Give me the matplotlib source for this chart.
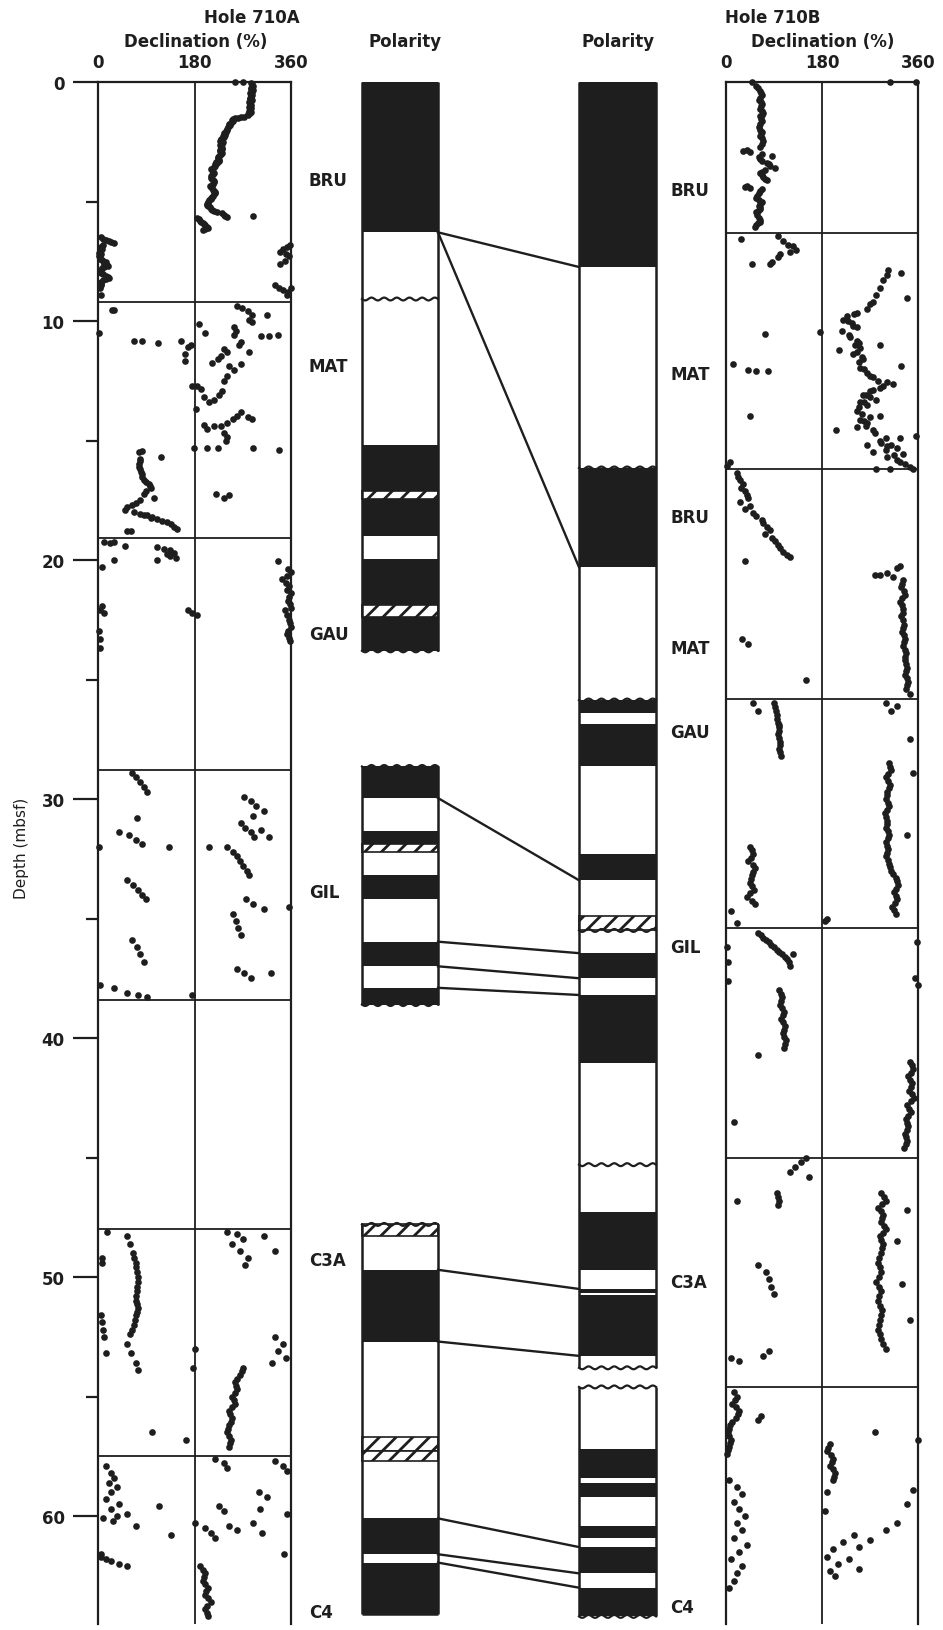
import numpy as np
import matplotlib.pyplot as plt
from matplotlib.patches import Rectangle

plt.rcParams['font.family'] = ['DejaVu Sans']
plt.rcParams['hatch.linewidth'] = 2.0

INK = '#1e1e1e'
W, H = 943, 1631
YMAX = 64.5
PX_PER_M = 23.9
TOP_PX = 83

# ---- Hole 710A declination (depth mbsf, declination deg) ----
a_core1 = [(0.0, 255), (0.0, 270), (0.05, 285), (0.1, 287), (0.15, 289), (0.2, 288), (0.25, 285),
           (0.3, 286), (0.35, 289), (0.4, 287), (0.45, 284), (0.5, 285), (0.55, 288), (0.6, 286),
           (0.65, 283), (0.7, 284), (0.75, 287), (0.8, 285), (0.85, 282), (0.9, 283), (0.95, 286),
           (1.0, 284), (1.05, 281), (1.1, 285), (1.15, 283), (1.2, 282), (1.25, 285), (1.3, 283),
           (1.35, 279), (1.4, 280), (1.45, 272), (1.47, 266), (1.5, 262), (1.52, 255), (1.56, 252),
           (1.6, 250), (1.65, 251), (1.7, 248), (1.75, 245), (1.8, 246), (1.85, 244), (1.9, 243),
           (1.95, 241), (2.0, 240), (2.05, 239), (2.1, 238), (2.15, 235), (2.2, 236), (2.25, 234),
           (2.3, 235), (2.38, 230), (2.45, 227), (2.5, 233), (2.55, 230), (2.6, 231), (2.65, 228),
           (2.7, 229), (2.75, 232), (2.8, 231), (2.85, 227), (2.9, 228), (2.95, 231), (3.0, 229),
           (3.05, 227), (3.1, 226), (3.15, 223), (3.2, 224), (3.25, 226), (3.3, 225), (3.35, 221),
           (3.4, 222), (3.45, 219), (3.5, 218), (3.55, 216), (3.6, 214), (3.65, 211), (3.7, 212),
           (3.75, 215), (3.8, 216), (3.85, 214), (3.9, 213), (3.95, 210), (4.0, 211), (4.05, 213),
           (4.1, 214), (4.15, 217), (4.2, 216), (4.25, 214), (4.3, 212), (4.35, 209), (4.4, 210),
           (4.45, 212), (4.5, 214), (4.55, 216), (4.6, 218), (4.65, 219), (4.7, 216), (4.75, 214),
           (4.8, 213), (4.85, 211), (4.9, 210), (4.95, 207), (5.0, 206), (5.05, 205), (5.1, 204),
           (5.15, 203), (5.2, 205), (5.25, 208), (5.3, 210), (5.35, 213), (5.4, 216), (5.45, 222),
           (5.5, 232), (5.55, 235), (5.6, 236), (5.65, 240), (5.6, 290), (5.7, 185), (5.75, 188),
           (5.8, 190), (5.85, 193), (5.9, 195), (5.95, 198), (6.0, 200), (6.05, 203), (6.1, 205),
           (6.15, 200), (6.2, 196),
           (6.5, 5), (6.55, 10), (6.6, 15), (6.65, 20), (6.7, 25), (6.75, 30), (6.8, 10), (6.85, 7),
           (6.9, 5), (6.95, 3), (7.0, 8), (7.05, 5), (7.1, 3), (7.15, 2), (7.2, 6), (7.25, 4),
           (7.3, 2), (7.35, 3), (7.4, 4), (7.45, 7), (7.5, 10), (7.55, 14), (7.6, 12), (7.65, 16),
           (7.7, 18), (7.75, 12), (7.8, 8), (7.85, 6), (7.9, 4), (7.95, 3), (8.0, 6), (8.05, 10),
           (8.1, 15), (8.15, 18), (8.2, 20), (8.25, 14), (8.3, 10), (8.35, 6), (8.4, 4), (8.45, 5),
           (8.5, 6), (8.55, 4), (8.6, 3), (8.9, 5),
           (6.8, 358), (6.9, 352), (7.0, 345), (7.1, 340), (7.2, 350), (7.3, 356), (7.5, 348),
           (7.6, 340), (8.5, 330), (8.6, 338), (8.7, 345), (8.8, 355), (8.6, 360), (8.9, 352)]
a_core2 = [(9.53, 26), (9.55, 29), (9.38, 260), (9.45, 269), (9.6, 279), (9.75, 288), (9.97, 282),
           (10.04, 288), (9.75, 316), (10.12, 188), (10.49, 200), (10.49, 1), (10.27, 254),
           (10.42, 257), (10.57, 254), (10.64, 304), (10.64, 319), (10.57, 335), (10.83, 68),
           (10.83, 82), (10.93, 112), (10.82, 154), (11.0, 173), (11.08, 167), (11.38, 162),
           (11.68, 163), (10.86, 266), (11.0, 263), (11.3, 282), (11.16, 235), (11.3, 241),
           (11.45, 229), (11.6, 223), (11.75, 213), (11.9, 245), (12.05, 254), (11.8, 266),
           (12.7, 176), (12.7, 185), (12.86, 192), (13.2, 198), (13.4, 207), (13.3, 216),
           (13.1, 226), (12.94, 232), (12.3, 240), (12.5, 235), (13.7, 182), (13.8, 266),
           (13.97, 260), (14.1, 251), (14.27, 241), (14.4, 229), (14.4, 216), (14.5, 204),
           (14.35, 198), (14.0, 279), (14.1, 288), (14.7, 235), (14.87, 241), (15.0, 238),
           (15.3, 179), (15.3, 204), (15.3, 223), (15.3, 290), (15.4, 338), (15.46, 82),
           (15.5, 76), (15.7, 117), (15.76, 79), (15.87, 78), (15.98, 76), (16.1, 77), (16.2, 79),
           (16.3, 80), (16.4, 82), (16.52, 83), (16.65, 85), (16.72, 90), (16.8, 95), (16.9, 97),
           (17.0, 98), (17.1, 90), (17.24, 85), (17.4, 104), (17.5, 79), (17.6, 70), (17.7, 64),
           (17.8, 54), (17.9, 51), (18.0, 67), (18.06, 79), (18.13, 92), (18.2, 101), (18.3, 110),
           (18.35, 120), (18.4, 129), (18.5, 136), (18.6, 142), (18.7, 148), (18.8, 61), (18.8, 54),
           (18.1, 85), (18.26, 98), (17.24, 220), (17.4, 235), (17.3, 245)]
a_core3 = [(19.25, 11), (19.3, 23), (19.4, 51), (19.25, 29), (19.47, 110), (19.54, 123),
           (19.6, 135), (19.7, 142), (19.84, 135), (19.76, 129), (19.99, 110), (19.9, 145),
           (19.99, 29), (20.28, 7), (20.06, 335), (20.36, 354), (20.5, 360), (20.65, 352),
           (20.8, 344), (20.95, 350), (21.1, 357), (21.25, 352), (21.4, 360), (21.55, 356),
           (21.7, 354), (21.85, 358), (22.0, 360), (22.1, 349), (22.3, 353), (22.5, 356),
           (22.65, 359), (22.8, 360), (22.95, 355), (23.1, 352), (23.25, 356), (23.4, 358),
           (22.1, 4), (22.2, 11), (21.93, 7), (22.1, 167), (22.2, 176), (22.3, 185), (22.97, 1),
           (23.3, 4), (23.7, 3)]
a_core4 = [(28.9, 64), (29.1, 70), (29.3, 78), (29.5, 85), (29.7, 92), (29.9, 273), (30.1, 285),
           (30.3, 295), (30.5, 310), (30.7, 290), (30.8, 73), (31.0, 266), (31.2, 275), (31.4, 285),
           (31.6, 291), (31.3, 304), (31.6, 319), (31.4, 39), (31.5, 57), (31.7, 70), (31.9, 82),
           (32.0, 1), (32.0, 132), (32.0, 207), (32.0, 241), (32.2, 251), (32.4, 260),
           (32.6, 265), (32.8, 270), (33.0, 278), (33.2, 282), (33.4, 54), (33.6, 65), (33.8, 75),
           (34.0, 82), (34.2, 89), (34.2, 276), (34.4, 290), (34.6, 310), (34.5, 357),
           (34.8, 251), (35.1, 258), (35.4, 262), (35.7, 266), (35.9, 64), (36.2, 72), (36.5, 78),
           (36.8, 85), (37.1, 260), (37.3, 272), (37.5, 285), (37.3, 323), (37.8, 4), (37.9, 30),
           (38.1, 55), (38.2, 75), (38.3, 92), (38.2, 176)]
a_core6 = [(49.2, 8), (49.4, 8), (51.6, 5), (51.9, 8), (52.2, 9), (52.5, 11), (53.2, 14),
           (48.1, 16), (48.3, 55), (48.6, 60), (49.0, 65), (49.2, 68), (49.4, 70), (49.6, 71),
           (49.8, 72), (50.0, 74), (50.2, 75), (50.4, 73), (50.6, 72), (50.8, 71), (51.0, 70),
           (51.15, 73), (51.3, 75), (51.45, 72), (51.6, 70), (51.8, 69), (52.0, 68), (52.2, 64),
           (52.4, 60), (52.8, 55), (53.2, 62), (53.6, 70), (53.9, 75), (48.1, 240), (48.2, 260),
           (48.4, 270), (48.6, 250), (48.9, 265), (49.2, 280), (49.5, 275), (48.3, 310),
           (48.9, 330), (53.0, 180), (53.8, 178), (52.5, 330), (52.8, 345), (53.1, 335),
           (53.4, 350), (53.6, 325), (53.8, 270), (53.95, 268), (54.1, 265), (54.25, 260),
           (54.4, 255), (54.55, 258), (54.7, 260), (54.85, 255), (55.0, 250), (55.15, 253),
           (55.3, 255), (55.45, 250), (55.6, 245), (55.75, 247), (55.9, 250), (56.05, 248),
           (56.2, 245), (56.35, 242), (56.5, 240), (56.65, 244), (56.8, 248), (56.95, 246),
           (57.1, 244), (56.8, 165), (56.5, 100)]
a_core7 = [(57.9, 15), (58.2, 25), (58.4, 30), (58.6, 20), (58.8, 35), (59.0, 25), (59.3, 15),
           (59.5, 40), (59.7, 25), (59.9, 55), (60.0, 35), (60.1, 10), (60.2, 28), (60.4, 70),
           (61.7, 5), (61.8, 15), (61.9, 25), (62.0, 40), (62.1, 55), (61.6, 5), (59.6, 113),
           (60.8, 136), (57.6, 219), (57.8, 235), (58.0, 240), (57.7, 330), (57.9, 345),
           (58.1, 352), (59.0, 300), (59.2, 315), (59.6, 225), (59.8, 235), (59.7, 302),
           (59.9, 352), (60.3, 180), (60.5, 200), (60.7, 210), (60.9, 218), (60.4, 245),
           (60.6, 260), (60.3, 290), (60.7, 305), (61.6, 347), (62.1, 190), (62.25, 196),
           (62.4, 200), (62.55, 198), (62.7, 195), (62.85, 200), (63.0, 205), (63.15, 202),
           (63.3, 200), (63.45, 206), (63.6, 210), (63.75, 204), (63.9, 200), (64.05, 203),
           (64.2, 205)]

# ---- Hole 710B declination ----
b_core1 = [(0.01, 48), (0.16, 57), (0.27, 60), (0.38, 64), (0.45, 66), (0.53, 67), (0.65, 63),
           (0.76, 61), (0.84, 65), (0.91, 67), (1.02, 66), (1.13, 64), (1.2, 68), (1.28, 70),
           (1.36, 67), (1.43, 64), (1.55, 66), (1.65, 67), (1.76, 64), (1.88, 61), (2.0, 64),
           (2.1, 67), (2.18, 66), (2.25, 64), (2.36, 67), (2.47, 70), (2.6, 67), (2.7, 64),
           (2.85, 39), (2.9, 32), (2.92, 45), (3.0, 67), (3.1, 86), (3.15, 61), (3.22, 64),
           (3.3, 67), (3.37, 76), (3.45, 80), (3.52, 82), (3.6, 92), (3.67, 73), (3.75, 68),
           (3.82, 64), (3.9, 67), (3.97, 70), (4.05, 73), (4.12, 76), (4.34, 39), (4.4, 36),
           (4.42, 45), (4.49, 67), (4.56, 64), (4.64, 61), (4.75, 59), (4.87, 57), (4.95, 62),
           (5.02, 67), (5.1, 64), (5.17, 61), (5.24, 63), (5.31, 64), (5.4, 60), (5.46, 57),
           (5.58, 59), (5.69, 61), (5.77, 63), (5.84, 64), (5.92, 60), (5.99, 57), (6.06, 54),
           (0.0, 307), (0.0, 357)]
b_core2 = [(6.44, 98), (6.58, 29), (6.66, 107), (6.81, 117), (6.88, 126), (7.03, 132),
           (7.11, 120), (7.18, 101), (7.33, 98), (7.55, 86), (7.63, 82), (7.63, 48), (7.85, 304),
           (8.0, 329), (8.08, 301), (8.3, 295), (8.6, 289), (8.9, 282), (9.05, 339), (9.2, 276),
           (9.3, 270), (9.5, 264), (9.65, 245), (9.7, 240), (9.8, 226), (9.95, 220), (10.0, 228),
           (10.1, 236), (10.2, 238), (10.25, 245), (10.4, 217), (10.47, 176), (10.54, 73),
           (10.6, 230), (10.69, 232), (10.84, 245), (10.9, 250), (10.99, 289), (11.0, 242),
           (11.14, 251), (11.2, 211), (11.3, 245), (11.37, 239), (11.5, 255), (11.59, 257),
           (11.7, 250), (11.81, 14), (11.89, 329), (11.96, 251), (12.0, 258), (12.04, 42),
           (12.11, 57), (12.11, 79), (12.19, 264), (12.3, 270), (12.34, 276), (12.5, 285),
           (12.56, 301), (12.64, 314), (12.7, 295), (12.79, 289), (12.9, 275), (12.93, 270),
           (13.08, 257), (13.1, 262), (13.2, 270), (13.31, 282), (13.38, 251), (13.4, 258),
           (13.53, 264), (13.6, 250), (13.76, 245), (13.9, 255), (13.98, 45), (13.98, 289),
           (14.0, 270), (14.13, 251), (14.2, 258), (14.28, 264), (14.4, 262), (14.43, 245),
           (14.58, 207), (14.58, 276), (14.7, 280), (14.8, 357), (14.88, 326), (14.9, 300),
           (15.03, 289), (15.1, 290), (15.18, 264), (15.2, 310), (15.25, 301), (15.33, 320),
           (15.4, 300), (15.47, 276), (15.55, 332), (15.6, 315), (15.7, 301), (15.8, 320),
           (15.92, 326), (15.92, 7), (16.0, 335), (16.07, 1), (16.1, 345), (16.2, 282),
           (16.2, 307), (16.2, 351)]
b_core3 = [(16.37, 20), (16.52, 23), (16.67, 26), (16.82, 32), (16.97, 29), (17.12, 36),
           (17.27, 39), (17.42, 42), (17.57, 26), (17.72, 45), (17.87, 36), (18.02, 51),
           (18.17, 57), (18.31, 67), (18.46, 70), (18.61, 76), (18.76, 82), (18.91, 73),
           (19.06, 86), (19.21, 92), (19.36, 98), (19.51, 101), (19.66, 107), (19.81, 114),
           (19.88, 120), (20.03, 36), (20.26, 326), (20.33, 320), (20.56, 301), (20.63, 289),
           (20.63, 279), (20.7, 314), (20.85, 332), (21.0, 330), (21.15, 329), (21.3, 333),
           (21.45, 336), (21.6, 330), (21.75, 326), (21.9, 330), (22.05, 332), (22.2, 331),
           (22.35, 329), (22.5, 331), (22.7, 333), (22.85, 332), (23.0, 330), (23.15, 333),
           (23.3, 335), (23.45, 334), (23.6, 332), (23.75, 336), (23.9, 338), (24.05, 336),
           (24.2, 335), (24.35, 338), (24.5, 340), (24.65, 338), (24.8, 336), (24.95, 340),
           (25.1, 342), (25.25, 340), (25.4, 338), (25.6, 345), (23.3, 30), (23.5, 42), (25.0, 150)]
b_core4 = [(26.0, 90), (26.15, 91), (26.3, 93), (26.5, 95), (26.65, 96), (26.8, 97), (26.9, 99),
           (27.0, 100), (27.15, 99), (27.3, 98), (27.45, 100), (27.6, 102), (27.75, 101),
           (27.9, 100), (28.05, 102), (28.2, 103), (26.0, 50), (26.3, 60), (26.0, 300),
           (26.1, 320), (26.3, 310), (28.5, 305), (28.65, 308), (28.8, 310), (28.95, 304),
           (29.1, 300), (29.25, 304), (29.4, 308), (29.55, 305), (29.7, 302), (29.85, 301),
           (30.0, 300), (30.15, 303), (30.3, 305), (30.45, 301), (30.6, 298), (30.75, 300),
           (30.9, 302), (31.05, 301), (31.2, 300), (31.35, 303), (31.5, 306), (31.65, 303),
           (31.8, 300), (31.95, 302), (32.1, 303), (32.25, 301), (32.4, 300), (32.55, 303),
           (32.7, 305), (32.85, 308), (33.0, 310), (33.15, 314), (33.3, 318), (33.45, 320),
           (33.6, 322), (33.75, 318), (33.9, 315), (34.05, 318), (34.2, 320), (34.35, 316),
           (34.5, 312), (34.65, 315), (34.8, 318), (27.5, 345), (28.9, 350), (31.5, 340),
           (32.0, 45), (32.15, 48), (32.3, 50), (32.45, 46), (32.6, 42), (32.75, 50), (32.9, 55),
           (33.05, 50), (33.2, 48), (33.35, 46), (33.5, 45), (33.65, 48), (33.8, 52), (33.95, 45),
           (34.1, 40), (34.25, 48), (34.4, 55), (34.7, 10), (35.0, 190), (35.1, 185), (35.2, 20)]
b_core5 = [(35.6, 60), (35.7, 65), (35.8, 70), (35.9, 75), (36.0, 80), (36.1, 85), (36.2, 90),
           (36.3, 95), (36.4, 100), (36.5, 105), (36.6, 110), (36.7, 114), (36.8, 118),
           (36.5, 125), (37.0, 120), (36.2, 2), (36.8, 4), (37.6, 3), (37.5, 355), (37.8, 360),
           (36.0, 358), (38.0, 100), (38.15, 103), (38.3, 105), (38.45, 104), (38.6, 102),
           (38.75, 105), (38.9, 108), (39.05, 106), (39.2, 104), (39.35, 107), (39.5, 110),
           (39.65, 108), (39.8, 106), (39.95, 109), (40.1, 112), (40.25, 110), (40.4, 108),
           (40.7, 60), (43.5, 15), (41.0, 345), (41.15, 348), (41.3, 350), (41.45, 346),
           (41.6, 342), (41.75, 345), (41.9, 348), (42.05, 346), (42.2, 344), (42.35, 348),
           (42.5, 352), (42.65, 346), (42.8, 340), (42.95, 343), (43.1, 346), (43.25, 342),
           (43.4, 338), (43.55, 340), (43.7, 342), (43.85, 339), (44.0, 336), (44.15, 338),
           (44.3, 340), (44.45, 337), (44.6, 334)]
b_core6 = [(45.0, 150), (45.2, 140), (45.4, 130), (45.6, 120), (45.8, 155), (46.5, 95),
           (46.65, 97), (46.8, 100), (47.0, 98), (46.8, 20), (46.5, 290), (46.65, 296),
           (46.8, 300), (46.95, 292), (47.1, 285), (47.25, 290), (47.4, 295), (47.55, 292),
           (47.7, 290), (47.85, 296), (48.0, 300), (48.15, 294), (48.3, 288), (48.45, 291),
           (48.6, 295), (48.8, 292), (49.0, 290), (49.2, 287), (49.4, 285), (49.6, 288),
           (49.8, 290), (50.0, 286), (50.2, 282), (50.4, 286), (50.6, 290), (50.8, 287),
           (51.0, 285), (51.2, 289), (51.4, 292), (51.6, 290), (51.8, 288), (52.0, 286),
           (52.2, 285), (52.4, 288), (52.6, 290), (52.8, 295), (53.0, 300), (49.5, 60), (49.8, 75),
           (50.1, 80), (50.4, 85), (50.7, 90), (53.4, 10), (53.5, 25), (53.3, 70), (53.1, 80),
           (47.2, 340), (48.5, 320), (50.3, 330), (51.8, 345)]
b_core7 = [(54.8, 15), (55.0, 20), (55.15, 16), (55.3, 12), (55.45, 18), (55.6, 25), (55.75, 22),
           (55.9, 18), (56.05, 12), (56.2, 8), (56.35, 5), (56.5, 3), (56.65, 6), (56.8, 10),
           (56.95, 8), (57.1, 5), (57.25, 3), (57.4, 2), (58.5, 5), (58.8, 20), (59.1, 30),
           (59.4, 15), (59.7, 25), (60.0, 35), (60.3, 20), (60.6, 30), (60.9, 15), (61.2, 40),
           (61.5, 25), (61.8, 10), (62.1, 30), (62.4, 20), (62.7, 15), (63.0, 5), (55.8, 65),
           (56.0, 60), (57.0, 195), (57.15, 192), (57.3, 190), (57.45, 196), (57.6, 200),
           (57.75, 198), (57.9, 195), (58.05, 200), (58.2, 205), (58.35, 202), (58.5, 200),
           (59.0, 190), (56.5, 280), (56.8, 360), (58.9, 350), (59.5, 340), (60.3, 320),
           (60.6, 300), (61.0, 270), (61.3, 250), (60.8, 240), (61.1, 220), (61.4, 200),
           (61.7, 190), (62.0, 210), (62.3, 195), (62.5, 205), (61.8, 230), (62.2, 250),
           (59.8, 185)]

# core breaks (mbsf)
breaks_a = [9.2, 19.1, 28.8, 38.4, 48.0, 57.5]
breaks_b = [6.3, 16.2, 25.8, 35.4, 45.0, 54.6]

# ---- polarity columns: top, bottom, kind (n = normal, r = reversed, h = uncertain) ----
pol_a = [(0, 6.29, 'n'), (6.29, 15.2, 'r'), (15.2, 17.1, 'n'), (17.1, 17.45, 'h'),
         (17.45, 19.0, 'n'), (19.0, 19.95, 'r'), (19.95, 21.9, 'n'), (21.9, 22.4, 'h'),
         (22.4, 23.8, 'n'), (28.64, 29.96, 'n'), (29.96, 31.35, 'r'), (31.35, 31.9, 'n'),
         (31.9, 32.2, 'h'), (32.2, 33.2, 'r'), (33.2, 34.2, 'n'), (34.2, 35.97, 'r'),
         (35.97, 37.0, 'n'), (37.0, 37.9, 'r'), (37.9, 38.6, 'n'), (47.8, 48.3, 'h'),
         (48.3, 49.7, 'r'), (49.7, 52.7, 'n'), (52.7, 56.7, 'r'), (56.7, 57.3, 'h'),
         (57.3, 57.7, 'h'), (57.7, 60.1, 'r'), (60.1, 61.6, 'n'), (61.6, 61.95, 'r'),
         (61.95, 64.1, 'n')]
pol_b = [(0, 7.74, 'n'), (7.74, 16.15, 'r'), (16.15, 20.3, 'n'), (20.3, 25.86, 'r'),
         (25.86, 26.4, 'n'), (26.4, 26.87, 'r'), (26.87, 28.6, 'n'), (28.6, 32.3, 'r'),
         (32.3, 33.4, 'n'), (33.4, 34.9, 'r'), (34.9, 35.5, 'h'), (35.5, 36.45, 'r'),
         (36.45, 37.5, 'n'), (37.5, 38.2, 'r'), (38.2, 41.06, 'n'), (41.06, 47.3, 'r'),
         (47.3, 49.7, 'n'), (49.7, 50.5, 'r'), (50.5, 50.68, 'n'), (50.68, 50.76, 'r'),
         (50.76, 53.3, 'n'), (53.3, 53.8, 'r'), (54.6, 57.2, 'r'), (57.2, 58.4, 'n'),
         (58.4, 58.6, 'r'), (58.6, 59.2, 'n'), (59.2, 60.4, 'r'), (60.4, 60.9, 'n'),
         (60.9, 61.3, 'r'), (61.3, 62.4, 'n'), (62.4, 63.0, 'r'), (63.0, 64.2, 'n')]
runs_a = [(0, 23.8), (28.64, 38.6), (47.8, 64.1)]
runs_b = [(0, 53.8), (54.6, 64.2)]
wavy_a = [9.08, 23.8, 28.64, 38.6, 47.8]
wavy_b = [16.15, 25.86, 35.5, 45.3, 53.8, 54.6, 64.2]

# correlation ties: depth in 710A column -> depth in 710B column
ties = [(6.29, 7.74), (6.29, 20.3), (29.96, 33.4), (35.97, 36.45), (37.0, 37.5), (37.9, 38.2),
        (49.7, 50.5), (52.7, 53.3), (60.1, 61.3), (61.6, 62.4), (61.95, 63.0)]

labels_a = [('BRU', 4.1), ('MAT', 11.9), ('GAU', 23.1), ('GIL', 33.9), ('C3A', 49.3), ('C4', 64.0)]
labels_b = [('BRU', 4.5), ('MAT', 12.2), ('BRU', 18.2), ('MAT', 23.7), ('GAU', 27.2),
            ('GIL', 36.2), ('C3A', 50.2), ('C4', 63.8)]

fig = plt.figure(figsize=(W / 100, H / 100), dpi=100)
bot_px = TOP_PX + YMAX * PX_PER_M


def make_axes(x0, x1):
    return fig.add_axes([x0 / W, 1 - bot_px / H, (x1 - x0) / W, (bot_px - TOP_PX) / H])


def dec_panel(ax, cores, breaks):
    ax.set_xlim(0, 360)
    ax.set_ylim(YMAX, 0)
    for side in ['top', 'left', 'right']:
        ax.spines[side].set_linewidth(1.6)
        ax.spines[side].set_color(INK)
    ax.spines['bottom'].set_visible(False)
    ax.axvline(180, color=INK, lw=1.3)
    ax.hlines(breaks, 0, 360, color=INK, lw=1.3)
    for core in cores:
        d, v = zip(*core)
        ax.plot(v, d, 'o', ms=4.8, color=INK, mec='none', clip_on=False)
    ax.xaxis.tick_top()
    ax.set_xticks([0, 180, 360])
    ax.set_xticklabels(['0', '180', '360'], fontsize=12, fontweight='bold', color=INK)
    ax.tick_params(axis='x', length=0, pad=8)


ax_a = make_axes(98, 291)
dec_panel(ax_a, [a_core1, a_core2, a_core3, a_core4, a_core6, a_core7], breaks_a)
ax_a.set_yticks(np.arange(0, 61, 10))
ax_a.set_yticks(np.arange(5, 61, 10), minor=True)
ax_a.tick_params(axis='y', which='major', length=18, width=1.6, pad=6, labelsize=12, colors=INK)
ax_a.tick_params(axis='y', which='minor', length=8.5, width=1.6, colors=INK)
for t in ax_a.get_yticklabels():
    t.set_fontweight('bold')

ax_b = make_axes(726, 918)
dec_panel(ax_b, [b_core1, b_core2, b_core3, b_core4, b_core5, b_core6, b_core7], breaks_b)
ax_b.set_yticks([])

# polarity columns and ties, x in figure pixels
ax_m = make_axes(0, W)
ax_m.set_xlim(0, W)
ax_m.set_ylim(YMAX, 0)
ax_m.axis('off')
ax_m.patch.set_alpha(0)


def wave(y, x0, x1):
    xs = np.linspace(x0, x1, 80)
    return xs, y + 0.06 * np.sin((xs - x0) / (x1 - x0) * 6 * 2 * np.pi)


def pol_column(x0, x1, intervals, runs, wavy):
    for top, bot, kind in intervals:
        if kind == 'n':
            ax_m.add_patch(Rectangle((x0, top), x1 - x0, bot - top, fc=INK, ec='none'))
        elif kind == 'h':
            ax_m.add_patch(Rectangle((x0, top), x1 - x0, bot - top, fc='white', ec=INK,
                                     hatch='//', lw=1.2))
    for top, bot in runs:
        ax_m.vlines([x0, x1], top, bot, color=INK, lw=1.8)
        for y in (top, bot):
            if y in wavy:
                continue
            ax_m.hlines(y, x0, x1, color=INK, lw=1.8)
    for y in wavy:
        xs, ys = wave(y, x0, x1)
        ax_m.plot(xs, ys, color=INK, lw=1.6)


pol_column(362, 438, pol_a, runs_a, wavy_a)
pol_column(579, 656, pol_b, runs_b, wavy_b)
for da, db in ties:
    ax_m.plot([438, 579], [da, db], color=INK, lw=1.7)

for name, d in labels_a:
    ax_m.text(309, d, name, fontsize=12, fontweight='bold', color=INK, va='center', ha='left')
for name, d in labels_b:
    ax_m.text(670, d, name, fontsize=12, fontweight='bold', color=INK, va='center', ha='left')


# headings
def ftext(x, y, s, **kw):
    fig.text(x / W, 1 - y / H, s, ha='center', va='center', color=INK, **kw)


ftext(252, 18, 'Hole 710A', fontsize=12, fontweight='bold')
ftext(196, 42, 'Declination (%)', fontsize=12, fontweight='bold')
ftext(773, 18, 'Hole 710B', fontsize=12, fontweight='bold')
ftext(823, 42, 'Declination (%)', fontsize=12, fontweight='bold')
ftext(405, 42, 'Polarity', fontsize=12, fontweight='bold')
ftext(618, 42, 'Polarity', fontsize=12, fontweight='bold')
ftext(22, 848, 'Depth (mbsf)', fontsize=11, rotation=90)

fig.savefig('out.png', dpi=100)
